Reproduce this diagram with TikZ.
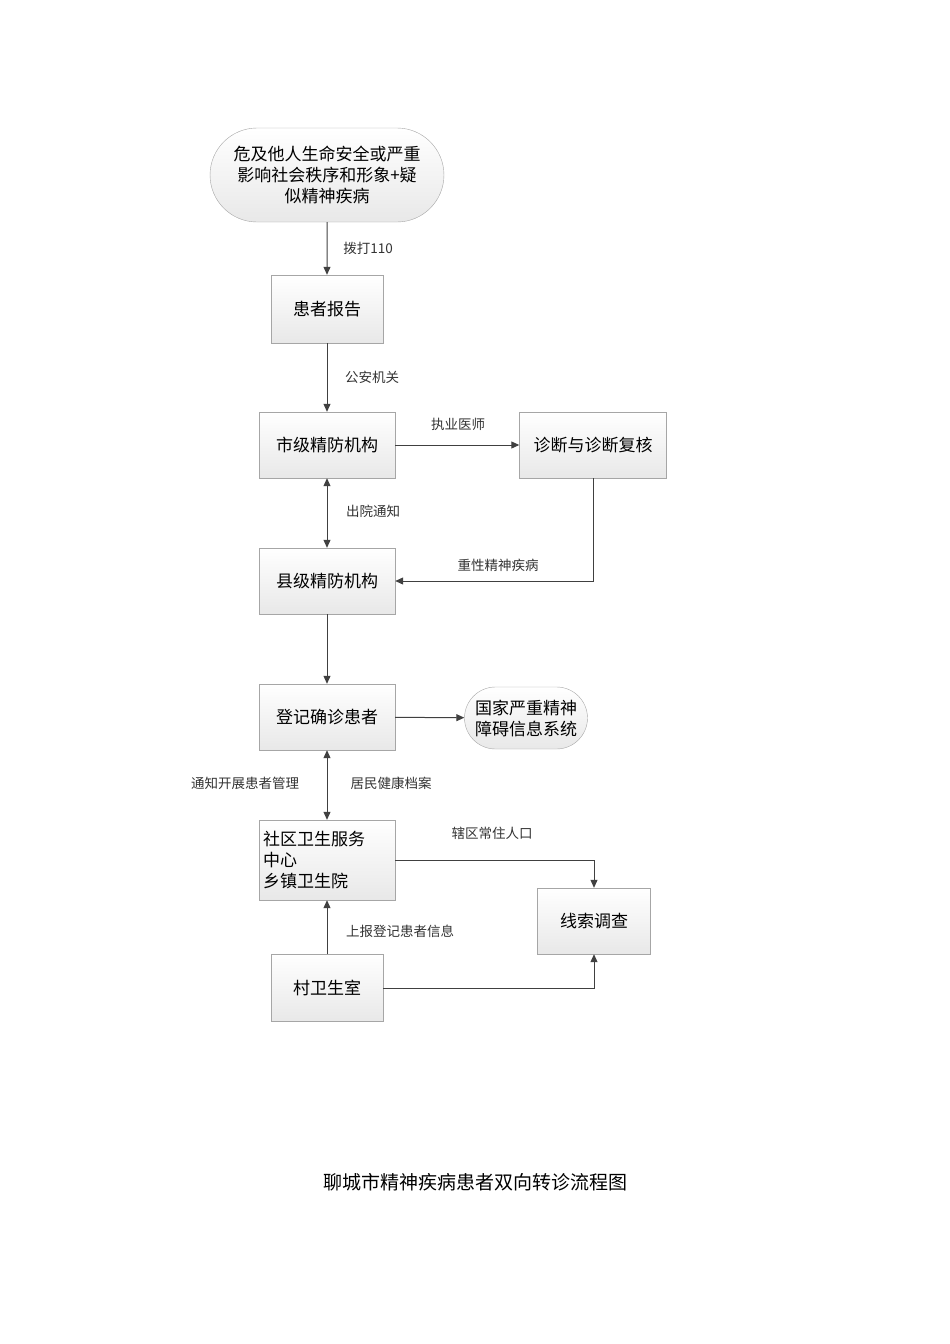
\documentclass[tikz,border=0pt]{standalone}
\usepackage{fontspec}
\setmainfont{Noto Sans CJK SC}
\usetikzlibrary{arrows.meta,shapes.misc}
\begin{document}
\begin{tikzpicture}[x=1pt,y=-1pt,
  box/.style={draw=gray!70,top color=white,bottom color=gray!18,minimum width=136pt,minimum height=66pt,font=\fontsize{17}{21}\selectfont,inner sep=2pt},
  rbox/.style={box,rounded rectangle},
  lab/.style={font=\fontsize{13.5}{16}\selectfont,text=black!80},
  arr/.style={draw=black!75,line width=1pt,-{Triangle[length=8pt,width=7pt]}},
  darr/.style={draw=black!75,line width=1pt,{Triangle[length=8pt,width=7pt]}-{Triangle[length=8pt,width=7pt]}}]
\useasboundingbox (0,0) rectangle (950,1344);
\node[rbox,minimum width=225pt,minimum height=94pt,align=center,text width=210pt] (top) at (327,175) {危及他人生命安全或严重\\影响社会秩序和形象+疑\\似精神疾病};
\node[box,minimum width=112pt,minimum height=68pt] (hz) at (327,309) {患者报告};
\node[box] (sj) at (327,445) {市级精防机构};
\node[box,minimum width=147pt] (zd) at (593,445) {诊断与诊断复核};
\node[box] (xj) at (327,581) {县级精防机构};
\node[box] (dj) at (327,717) {登记确诊患者};
\node[rbox,minimum width=127pt,minimum height=62pt,align=center] (gj) at (526,718) {国家严重精神\\障碍信息系统};
\node[box,minimum height=80pt,align=left,text width=128pt] (sq) at (327,860) {社区卫生服务\\中心\\乡镇卫生院};
\node[box,minimum width=113pt] (xs) at (594,921) {线索调查};
\node[box,minimum width=112pt,minimum height=67pt] (cw) at (327,988) {村卫生室};
\node[font=\fontsize{19}{23}\selectfont] (title) at (475,1182) {聊城市精神疾病患者双向转诊流程图};
\draw[arr] (top) -- (hz);
\node[lab] (l1) at (368,248) {拨打110};
\draw[arr] (hz) -- (sj);
\node[lab] (l2) at (372,377) {公安机关};
\draw[arr] (sj) -- (zd);
\node[lab] (l3) at (458,424) {执业医师};
\draw[darr] (sj) -- (xj);
\node[lab] (l4) at (373,511) {出院通知};
\draw[arr] (zd.south) |- (xj.east);
\node[lab] (l5) at (498,565) {重性精神疾病};
\draw[arr] (xj) -- (dj);
\draw[arr] (dj) -- (gj);
\draw[darr] (dj) -- (sq);
\node[lab] (l6) at (245,783) {通知开展患者管理};
\node[lab] (l7) at (391,783) {居民健康档案};
\draw[arr] (sq.east) -| (xs.north);
\node[lab] (l8) at (492,833) {辖区常住人口};
\draw[arr] (cw) -- (sq);
\node[lab] (l9) at (400,931) {上报登记患者信息};
\draw[arr] (cw.east) -| (xs.south);
\end{tikzpicture}
\end{document}
